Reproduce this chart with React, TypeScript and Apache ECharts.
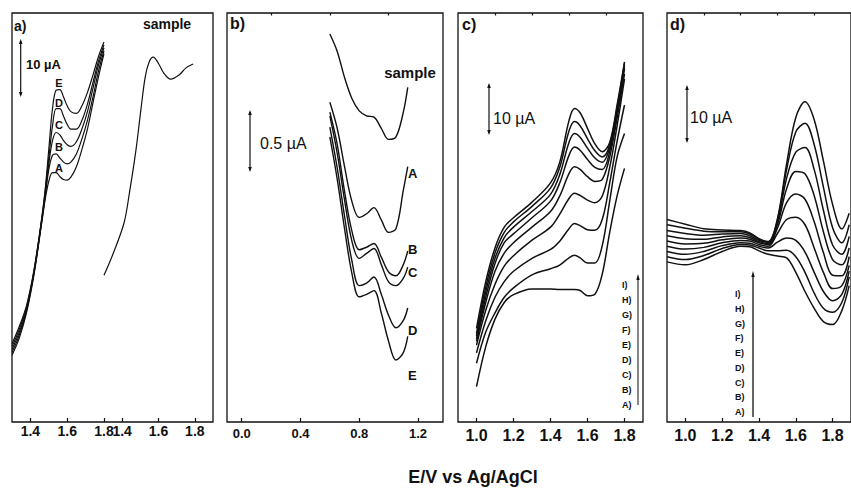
import React, { useEffect, useRef } from 'react';
import * as echarts from 'echarts';

// ---------- Panel a (two sub-axes) ----------
const aX = [1.30, 1.34, 1.38, 1.42, 1.46, 1.48, 1.50, 1.52, 1.54, 1.56, 1.58, 1.60, 1.62, 1.65, 1.68, 1.71, 1.74, 1.77, 1.80];
const aA = [11.5, 14.5, 19.0, 25.5, 34.0, 38.3, 41.5, 43.0, 43.0, 42.3, 41.8, 41.7, 42.2, 44.0, 47.0, 50.5, 55.0, 59.5, 63.5];
const aB = [12.0, 15.0, 19.3, 25.7, 34.2, 38.8, 43.5, 46.0, 46.2, 45.5, 44.8, 44.5, 44.8, 46.2, 48.8, 52.0, 56.0, 60.5, 64.0];
const aC = [12.5, 15.5, 19.6, 25.9, 34.4, 39.2, 44.5, 48.5, 49.9, 49.5, 48.5, 47.8, 47.5, 48.3, 50.5, 53.5, 57.5, 61.5, 64.5];
const aD = [13.0, 16.0, 19.9, 26.1, 34.6, 39.6, 45.5, 51.0, 54.0, 54.0, 52.7, 51.3, 50.5, 50.5, 52.0, 54.8, 58.5, 62.2, 65.0];
const aE = [13.5, 16.5, 20.2, 26.3, 34.8, 40.0, 47.0, 54.0, 57.2, 57.3, 56.0, 54.5, 53.5, 53.2, 54.5, 56.8, 59.8, 63.0, 65.5];
const aSampleX = [1.30, 1.35, 1.41, 1.44, 1.476, 1.503, 1.527, 1.549, 1.571, 1.60, 1.63, 1.667, 1.713, 1.75, 1.79];
const aSampleY = [25.3, 29.0, 34.3, 39.5, 46.9, 53.8, 59.5, 62.1, 62.9, 61.8, 60.1, 59.1, 59.8, 61.0, 61.7];
const aTicksLeft = [1.4, 1.6, 1.8];
const aTicksRight = [1.4, 1.6, 1.8];
const aLetters = ['A', 'B', 'C', 'D', 'E'];

// ---------- Panel b ----------
const bX = [0.60, 0.65, 0.70, 0.75, 0.80, 0.85, 0.90, 0.95, 1.00, 1.05, 1.10, 1.13];
const bSample = [3.13, 2.99, 2.78, 2.61, 2.51, 2.47, 2.46, 2.37, 2.28, 2.30, 2.50, 2.70];
const bA = [2.58, 2.37, 2.06, 1.78, 1.65, 1.68, 1.73, 1.63, 1.53, 1.56, 1.87, 2.06];
const bB = [2.50, 2.24, 1.86, 1.54, 1.39, 1.41, 1.44, 1.33, 1.21, 1.18, 1.27, 1.38];
const bC = [2.47, 2.17, 1.79, 1.46, 1.32, 1.36, 1.40, 1.27, 1.13, 1.10, 1.16, 1.25];
const bD = [2.38, 2.05, 1.66, 1.30, 1.10, 1.12, 1.17, 1.03, 0.86, 0.76, 0.82, 0.92];
const bE = [2.30, 1.96, 1.56, 1.20, 1.01, 1.03, 1.06, 0.88, 0.65, 0.50, 0.56, 0.69];
const bTicks = [0.0, 0.4, 0.8, 1.2];
const bMinor = [0.2, 0.6, 1.0];

// ---------- Panel c ----------
const cX = [1.00, 1.05, 1.10, 1.15, 1.20, 1.30, 1.40, 1.45, 1.50, 1.53, 1.56, 1.60, 1.64, 1.68, 1.72, 1.76, 1.80];
const cA = [6.8, 14.5, 19.8, 23.0, 24.5, 25.6, 25.6, 25.5, 25.5, 25.5, 25.3, 24.3, 24.6, 28.5, 36.5, 43.5, 48.8];
const cB = [11.3, 17.3, 21.0, 24.0, 25.8, 28.3, 29.5, 30.2, 31.6, 32.1, 31.6, 30.6, 30.6, 34.0, 42.5, 51.0, 55.5];
const cC = [13.3, 19.5, 24.0, 27.0, 29.0, 31.5, 33.2, 34.8, 37.2, 38.2, 37.8, 37.0, 36.9, 39.0, 46.0, 54.0, 61.0];
const cD = [14.8, 21.5, 26.5, 30.0, 32.0, 35.0, 37.5, 40.0, 43.0, 44.0, 43.6, 42.7, 42.2, 43.5, 49.0, 57.0, 66.0];
const cE = [15.5, 23.0, 29.0, 32.5, 34.5, 37.5, 40.5, 43.5, 47.8, 49.1, 48.6, 47.2, 46.3, 46.7, 51.0, 58.5, 67.0];
const cF = [16.0, 24.0, 30.5, 34.5, 36.2, 39.3, 42.5, 46.0, 51.3, 52.9, 52.3, 50.5, 49.0, 48.6, 52.0, 59.5, 68.0];
const cG = [16.5, 25.0, 31.5, 35.5, 37.5, 40.5, 43.8, 47.6, 53.8, 55.5, 54.8, 52.7, 50.8, 50.0, 52.8, 60.0, 68.5];
const cH = [17.0, 26.0, 32.5, 36.5, 38.5, 41.5, 45.0, 49.0, 56.0, 57.8, 57.0, 54.5, 52.2, 51.0, 53.3, 60.5, 69.0];
const cI = [18.0, 27.0, 33.5, 37.5, 39.3, 42.3, 46.0, 50.0, 58.0, 60.3, 59.5, 56.5, 53.5, 52.0, 53.8, 61.0, 69.3];

// ---------- Panel d ----------
const dX = [0.90, 1.00, 1.10, 1.20, 1.30, 1.35, 1.40, 1.45, 1.50, 1.55, 1.60, 1.65, 1.70, 1.75, 1.80, 1.85, 1.89];
const dA = [27.6, 27.1, 28.0, 29.4, 30.3, 30.2, 29.5, 28.9, 28.6, 28.3, 25.8, 22.5, 19.6, 17.3, 16.8, 19.2, 23.5];
const dB = [28.5, 28.0, 28.7, 29.9, 30.6, 30.5, 30.0, 29.5, 29.5, 29.6, 28.5, 25.8, 22.2, 19.6, 18.9, 20.6, 25.0];
const dC = [29.4, 28.9, 29.4, 30.4, 30.9, 30.8, 30.3, 30.0, 31.0, 31.7, 31.3, 29.3, 25.8, 22.5, 20.9, 22.0, 26.0];
const dD = [30.3, 29.8, 30.1, 30.9, 31.3, 31.2, 30.6, 30.3, 32.5, 34.9, 35.3, 34.0, 30.0, 25.8, 23.0, 23.5, 27.0];
const dE = [31.2, 30.7, 30.8, 31.4, 31.7, 31.5, 30.9, 30.6, 33.4, 37.8, 39.3, 38.4, 34.5, 29.2, 25.3, 25.2, 28.5];
const dF = [32.1, 31.6, 31.5, 31.9, 32.1, 31.8, 31.1, 30.8, 34.0, 40.2, 43.2, 42.8, 39.0, 32.8, 28.0, 27.1, 30.0];
const dG = [33.0, 32.5, 32.2, 32.4, 32.5, 32.1, 31.3, 31.0, 34.5, 42.0, 46.5, 47.3, 43.5, 36.5, 30.5, 28.9, 32.0];
const dH = [34.0, 33.4, 32.9, 32.8, 32.8, 32.4, 31.5, 31.1, 34.8, 43.5, 50.0, 51.5, 47.8, 40.5, 33.5, 30.9, 34.0];
const dI = [34.9, 34.1, 33.3, 33.1, 33.0, 32.6, 31.6, 31.0, 35.0, 44.5, 52.5, 55.2, 52.1, 45.0, 37.5, 33.3, 36.0];
const cdTicks = [1.0, 1.2, 1.4, 1.6, 1.8];
const cdMinor = [1.1, 1.3, 1.5, 1.7];
const cdLegend = ['I)', 'H)', 'G)', 'F)', 'E)', 'D)', 'C)', 'B)', 'A)'];

const FONT = '"Liberation Sans", Arial, Helvetica, sans-serif';
const INK = '#111';

function zip(xs: number[], ys: number[]) {
  return xs.map((x, i) => [x, ys[i]]);
}

function curve(xIdx: number, yIdx: number, xs: number[], ys: number[], width = 1.3) {
  return {
    type: 'line',
    xAxisIndex: xIdx,
    yAxisIndex: yIdx,
    data: zip(xs, ys),
    showSymbol: false,
    smooth: 0.35,
    silent: true,
    lineStyle: { color: INK, width },
    z: 3,
  };
}

function xAxisDef(grid: number, min: number, max: number, ticks: number[], fontSize: number, margin: number, showLabels = true, tickLen = 4) {
  return {
    type: 'value',
    gridIndex: grid,
    min,
    max,
    axisLine: { show: false },
    splitLine: { show: false },
    axisTick: {
      show: true,
      inside: true,
      length: tickLen,
      customValues: ticks,
      lineStyle: { color: INK, width: 1.2 },
    },
    axisLabel: {
      show: showLabels,
      customValues: ticks,
      margin,
      color: INK,
      fontSize,
      fontWeight: 'bold',
      fontFamily: FONT,
      formatter: (v: number) => v.toFixed(1),
    },
  };
}

function yAxisDef(grid: number, max: number) {
  return { type: 'value', gridIndex: grid, min: 0, max, show: false };
}

function scaleBar(x: number, y1: number, y2: number) {
  return [
    { type: 'line', shape: { x1: x, y1: y1 + 2, x2: x, y2: y2 - 2 }, style: { stroke: INK, lineWidth: 1.2 } },
    { type: 'polygon', shape: { points: [[x, y1], [x - 1.8, y1 + 5], [x + 1.8, y1 + 5]] }, style: { fill: INK } },
    { type: 'polygon', shape: { points: [[x, y2], [x - 1.8, y2 - 5], [x + 1.8, y2 - 5]] }, style: { fill: INK } },
  ];
}

function txt(text: string, x: number, y: number, size: number, bold = true, align = 'left') {
  return {
    type: 'text',
    x,
    y,
    style: {
      text,
      fill: INK,
      font: `${bold ? 'bold ' : ''}${size}px ${FONT}`,
      textAlign: align,
      textVerticalAlign: 'middle',
      align,
      verticalAlign: 'middle',
    },
  };
}

export default function App() {
  const ref = useRef<HTMLDivElement>(null);

  useEffect(() => {
    if (!ref.current) return;
    const chart = echarts.init(ref.current, undefined, { renderer: 'svg' });

    const TOP = 13;
    const H = 409;
    const gridBorder = { show: true, borderColor: INK, borderWidth: 1.3, backgroundColor: 'transparent' };

    const graphics: any[] = [
      { type: 'rect', shape: { x: 12, y: 13, width: 201, height: 409 }, style: { fill: 'none', stroke: INK, lineWidth: 1.3 }, z: 10 },
      txt('a)', 14, 26, 14),
      ...scaleBar(20.7, 39, 97),
      txt('10 µA', 26, 64, 13),
      txt('sample', 167, 24, 14, true, 'center'),
      txt('b)', 230, 23, 16),
      ...scaleBar(250, 110, 172),
      txt('0.5 µA', 260, 143, 16, false),
      txt('sample', 410, 72, 15, true, 'center'),
      txt('c)', 462, 24, 16),
      ...scaleBar(489, 83, 135),
      txt('10 µA', 493, 118, 16, false),
      txt('d)', 670, 24, 16),
      ...scaleBar(687, 85, 143),
      txt('10 µA', 690, 117, 16, false),
      txt('E/V vs Ag/AgCl', 473, 477, 18, true, 'center'),
    ];
    const aLetterY = [168, 147, 125, 103, 83];
    aLetters.forEach((l, i) => graphics.push(txt(l, 59, aLetterY[i], 11, true, 'center')));
    const bLetters = ['A', 'B', 'C', 'D', 'E'];
    const bLetterY = [173, 249, 272, 330, 375];
    bLetters.forEach((l, i) => graphics.push(txt(l, 408, bLetterY[i], 13, true)));
    cdLegend.forEach((l, i) => {
      graphics.push(txt(l, 622, 285 + i * 15, 9, true));
      graphics.push(txt(l, 735, 294 + i * 14.75, 9, true));
    });
    // legend arrows
    graphics.push({ type: 'line', shape: { x1: 638, y1: 279, x2: 638, y2: 405 }, style: { stroke: INK, lineWidth: 1 } });
    graphics.push({ type: 'polygon', shape: { points: [[638, 274], [636.3, 280], [639.7, 280]] }, style: { fill: INK } });
    graphics.push({ type: 'line', shape: { x1: 753, y1: 276, x2: 753, y2: 417 }, style: { stroke: INK, lineWidth: 1.3 } });
    graphics.push({ type: 'polygon', shape: { points: [[753, 271], [751.3, 277], [754.7, 277]] }, style: { fill: INK } });

    const option: any = {
      animation: false,
      backgroundColor: '#fff',
      grid: [
        { left: 12, top: TOP, width: 92, height: H, show: false },
        { left: 104, top: TOP, width: 109, height: H, show: false },
        { left: 227, top: TOP, width: 216, height: H, ...gridBorder },
        { left: 458, top: TOP, width: 185, height: H, ...gridBorder },
        { left: 667, top: TOP, width: 185, height: H, ...gridBorder },
      ],
      xAxis: [
        xAxisDef(0, 1.3, 1.8, aTicksLeft, 14, 2),
        xAxisDef(1, 1.3, 1.9, aTicksRight, 14, 2),
        xAxisDef(2, -0.1, 1.37, bTicks, 13, 5),
        xAxisDef(2, -0.1, 1.37, bMinor, 13, 5, false, 2.5),
        xAxisDef(3, 0.9, 1.9, cdTicks, 16, 5),
        xAxisDef(3, 0.9, 1.9, cdMinor, 16, 5, false, 2.5),
        xAxisDef(4, 0.9, 1.9, cdTicks, 16, 5),
        xAxisDef(4, 0.9, 1.9, cdMinor, 16, 5, false, 2.5),
      ],
      yAxis: [
        yAxisDef(0, 70.5),
        yAxisDef(1, 70.5),
        yAxisDef(2, 3.3),
        yAxisDef(3, 78.7),
        yAxisDef(4, 70.5),
      ],
      series: [
        ...[aA, aB, aC, aD, aE].map((ys) => curve(0, 0, aX, ys, 1.2)),
        curve(1, 1, aSampleX, aSampleY, 1.2),
        ...[bSample, bA, bB, bC, bD, bE].map((ys) => curve(2, 2, bX, ys, 1.4)),
        ...[cA, cB, cC, cD, cE, cF, cG, cH, cI].map((ys) => curve(4, 3, cX, ys, 1.5)),
        ...[dA, dB, dC, dD, dE, dF, dG, dH, dI].map((ys) => curve(6, 4, dX, ys, 1.5)),
      ],
      graphic: graphics,
    };
    chart.setOption(option);
    return () => chart.dispose();
  }, []);

  return <div ref={ref} style={{ position: 'absolute', left: 0, top: 0, width: 851, height: 488 }} />;
}
